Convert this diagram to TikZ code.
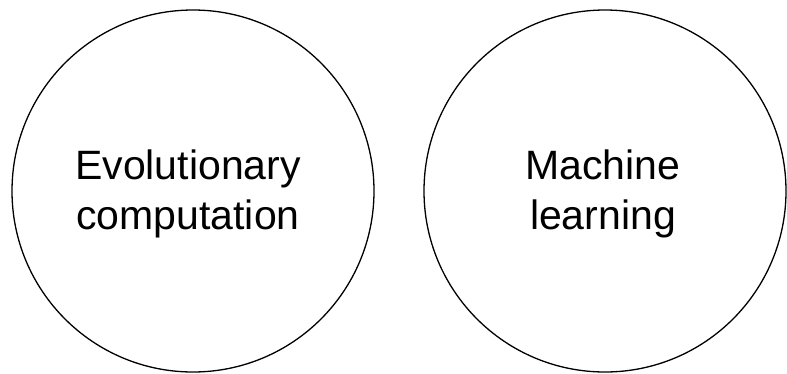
\documentclass[tikz,border=0pt]{standalone}
\usepackage{fontspec}
\setmainfont{Liberation Sans}
\begin{document}
\begin{tikzpicture}[x=1pt,y=-1pt,
  field/.style={circle,draw=black,line width=1.3pt,minimum size=362pt,inner sep=0pt},
  fieldlabel/.style={align=center,font=\fontsize{41}{50}\selectfont,inner sep=0pt}]
  \useasboundingbox (0,0) rectangle (787,373);
  % the two research fields
  \node[field] (ec) at (193,191) {};
  \node[field] (ml) at (605,191) {};
  \node[fieldlabel] (ectext) at ([xshift=-5pt,yshift=-3pt]ec.center) {Evolutionary\\computation};
  \node[fieldlabel] (mltext) at ([xshift=-2pt,yshift=-3pt]ml.center) {Machine\\learning};
\end{tikzpicture}
\end{document}
